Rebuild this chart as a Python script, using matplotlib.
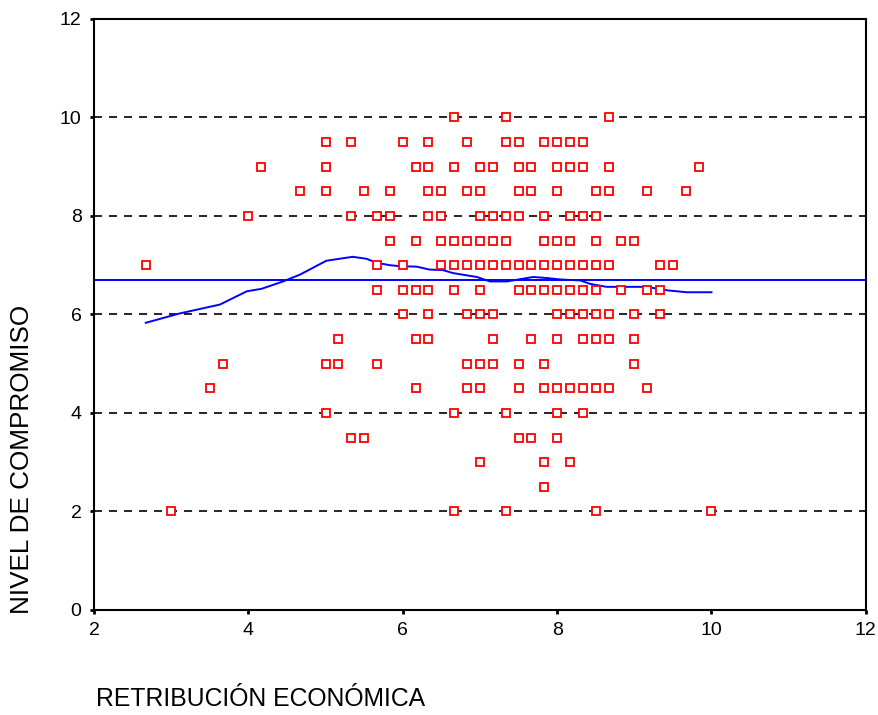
import numpy as np
import matplotlib
matplotlib.use('Agg')
import matplotlib.pyplot as plt

# --- data: x values (RETRIBUCIÓN ECONÓMICA) for each level of NIVEL DE COMPROMISO ---
x_10_0 = [6.667, 7.333, 8.667]
x_9_5 = [5.0, 5.333, 6.0, 6.333, 6.833, 7.333, 7.5, 7.833, 8.0, 8.167, 8.333]
x_9_0 = [4.167, 5.0, 6.167, 6.333, 6.667, 7.0, 7.167, 7.5, 7.667, 8.0, 8.167, 8.333, 8.667, 9.833]
x_8_5 = [4.667, 5.0, 5.5, 5.833, 6.333, 6.5, 6.833, 7.0, 7.5, 7.667, 8.0, 8.5, 8.667, 9.167, 9.667]
x_8_0 = [4.0, 5.333, 5.667, 5.833, 6.333, 6.5, 7.0, 7.167, 7.333, 7.5, 7.833, 8.167, 8.333, 8.5]
x_7_5 = [5.833, 6.167, 6.5, 6.667, 6.833, 7.0, 7.167, 7.333, 7.833, 8.0, 8.167, 8.5, 8.833, 9.0]
x_7_0 = [2.667, 5.667, 6.0, 6.5, 6.667, 6.833, 7.0, 7.167, 7.333, 7.5, 7.667, 7.833, 8.0,
         8.167, 8.333, 8.5, 8.667, 9.333, 9.5]
x_6_5 = [5.667, 6.0, 6.167, 6.333, 6.667, 7.0, 7.5, 7.667, 7.833, 8.0, 8.167, 8.333, 8.5,
         8.833, 9.167, 9.333]
x_6_0 = [6.0, 6.333, 6.833, 7.0, 7.167, 8.0, 8.167, 8.333, 8.5, 8.667, 9.0, 9.333]
x_5_5 = [5.167, 6.167, 6.333, 7.167, 7.667, 8.0, 8.333, 8.5, 8.667, 9.0]
x_5_0 = [3.667, 5.0, 5.167, 5.667, 6.833, 7.0, 7.167, 7.5, 7.833, 9.0]
x_4_5 = [3.5, 6.167, 6.833, 7.0, 7.5, 7.833, 8.0, 8.167, 8.333, 8.5, 8.667, 9.167]
x_4_0 = [5.0, 6.667, 7.333, 8.0, 8.333]
x_3_5 = [5.333, 5.5, 7.5, 7.667, 8.0]
x_3_0 = [7.0, 7.833, 8.167]
x_2_5 = [7.833]
x_2_0 = [3.0, 6.667, 7.333, 8.5, 10.0]

levels = [10.0, 9.5, 9.0, 8.5, 8.0, 7.5, 7.0, 6.5, 6.0, 5.5, 5.0, 4.5, 4.0, 3.5, 3.0, 2.5, 2.0]
rows = [x_10_0, x_9_5, x_9_0, x_8_5, x_8_0, x_7_5, x_7_0, x_6_5, x_6_0,
        x_5_5, x_5_0, x_4_5, x_4_0, x_3_5, x_3_0, x_2_5, x_2_0]

# mean line and smoothed fit
mean_y = 6.69
fit_x = [2.67, 3.11, 3.63, 3.98, 4.17, 4.45, 4.67, 5.01, 5.35, 5.53, 5.66, 5.83, 5.96,
         6.18, 6.35, 6.52, 6.65, 6.96, 7.13, 7.35, 7.69, 7.86, 8.04, 8.30, 8.43, 8.64,
         8.94, 9.16, 9.42, 9.68, 10.0]
fit_y = [5.83, 6.02, 6.20, 6.47, 6.52, 6.67, 6.81, 7.09, 7.17, 7.13, 7.05, 7.00, 6.98,
         6.97, 6.91, 6.90, 6.84, 6.76, 6.67, 6.67, 6.76, 6.74, 6.71, 6.69, 6.62, 6.56,
         6.56, 6.56, 6.49, 6.45, 6.45]

px = np.concatenate([np.array(r) for r in rows])
py = np.concatenate([np.full(len(r), lv) for r, lv in zip(rows, levels)])

plt.rcParams['font.family'] = ['Liberation Sans', 'DejaVu Sans']
plt.rcParams['lines.scale_dashes'] = False

fig = plt.figure(figsize=(8.79, 7.15), dpi=100)
ax = fig.add_axes([0.107, 0.147, 0.878, 0.8265])

# dashed reference lines
for yv in [2, 4, 6, 8, 10]:
    ax.axhline(yv, color='black', lw=1.2, dashes=(5.8, 5.0), zorder=1)

ax.axhline(mean_y, color='#0000ff', lw=1.4, zorder=2)
ax.plot(fit_x, fit_y, color='#0000ff', lw=1.4, zorder=2)

ax.plot(px, py, linestyle='none', marker='s', ms=6.3, mfc='white', mec='#ff0000',
        mew=1.3, zorder=3)

ax.set_xlim(2, 12)
ax.set_ylim(0, 12)
ax.set_xticks([2, 4, 6, 8, 10, 12])
ax.set_yticks([0, 2, 4, 6, 8, 10, 12])
ax.tick_params(direction='out', length=3, width=2, labelsize=14, pad=6)
for s in ax.spines.values():
    s.set_linewidth(1.5)

fig.text(0.0255, 0.358, 'NIVEL DE COMPROMISO', rotation=90, ha='center', va='center', fontsize=18.8)
fig.text(0.109, 0.0126, 'RETRIBUCIÓN ECONÓMICA', ha='left', va='baseline', fontsize=17.8)

fig.savefig('out.png', dpi=100)
